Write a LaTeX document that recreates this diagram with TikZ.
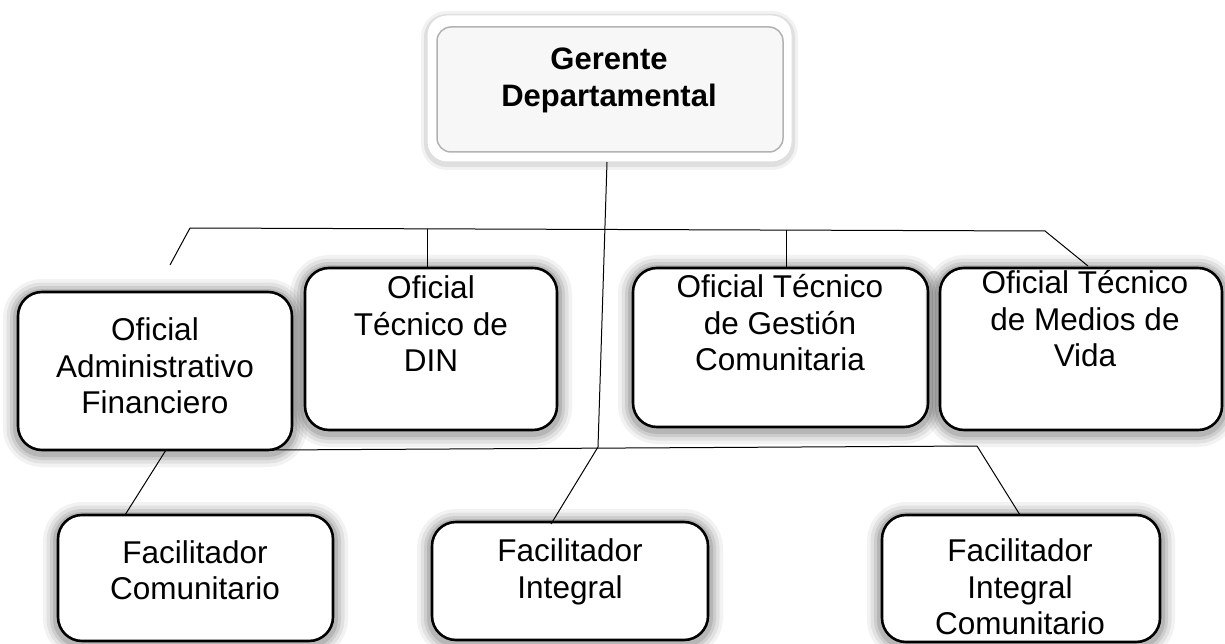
\documentclass[tikz,border=0pt]{standalone}
\usepackage{fontspec}
\setmainfont{Liberation Sans}
\begin{document}
\begin{tikzpicture}[x=1pt,y=-1pt,
  glow/.style={
    preaction={draw=black, line width=30pt, opacity=0.05, transform canvas={yshift=-2pt}},
    preaction={draw=black, line width=23pt, opacity=0.07, transform canvas={yshift=-2pt}},
    preaction={draw=black, line width=16pt, opacity=0.09, transform canvas={yshift=-2pt}},
    preaction={draw=black, line width=10pt, opacity=0.11, transform canvas={yshift=-2pt}}},
  box/.style={glow, draw=black, line width=2.6pt, rounded corners=24pt, fill=white, inner sep=0pt},
  txt/.style={align=center, inner sep=0pt, font=\fontsize{31.5}{36.5}\selectfont},
  btxt/.style={align=center, inner sep=0pt, font=\fontsize{31}{37}\selectfont\bfseries},
  conn/.style={draw=black, line width=1pt}]
\useasboundingbox (0,0) rectangle (1225,644);
% top box
\node[draw=gray!25, line width=1pt, fill=white, rounded corners=20pt, minimum width=365pt, minimum height=147pt,
  preaction={draw=black, line width=12pt, opacity=0.05, transform canvas={yshift=-2pt}},
  preaction={draw=black, line width=6pt, opacity=0.08, transform canvas={yshift=-2pt}}] (gout) at (609.5,88.5) {};
\node[draw=gray!60, line width=1.5pt, fill=gray!6, rounded corners=14pt, minimum width=346pt, minimum height=125pt] (gm) at (610,89.5) {};
\node[btxt] (gmT) at (609,80) {Gerente\\Departamental};
% boxes
\node[box, minimum width=274pt, minimum height=158pt] (adm) at (155,371) {};
\node[box, minimum width=252pt, minimum height=162pt] (din) at (431,349) {};
\node[box, minimum width=295pt, minimum height=159pt] (gest) at (780.5,347.5) {};
\node[box, minimum width=282pt, minimum height=162pt] (med) at (1081,349) {};
\node[box, minimum width=275pt, minimum height=126pt] (fcom) at (195.5,578) {};
\node[box, minimum width=276pt, minimum height=118pt] (fint) at (570,581) {};
\node[box, minimum width=278pt, minimum height=127pt] (fic) at (1021,578.5) {};
% texts
\node[txt] (admT) at (155,366) {Oficial\\Administrativo\\Financiero};
\node[txt] (dinT) at (431,324) {Oficial\\Técnico de\\DIN};
\node[txt] (gestT) at (780,323) {Oficial Técnico\\de Gestión\\Comunitaria};
\node[txt] (medT) at (1085,319) {Oficial Técnico\\de Medios de\\Vida};
\node[txt] (fcomT) at (195,570) {Facilitador\\Comunitario};
\node[txt] (fintT) at (570,572) {Facilitador\\Integral};
\node[txt] (ficT) at (1020,587) {Facilitador\\Integral\\Comunitario};
% coordinates
\coordinate (gb) at (607,162);
\coordinate (mb) at (598,447);
\coordinate (tl) at (190,228);
\coordinate (tr) at (1045,231);
\coordinate (tdin) at (427,229);
\coordinate (tgest) at (786,230);
\coordinate (admend) at (170,265);
\coordinate (medend) at (1088,266);
\coordinate (bl) at (273,450);
\coordinate (br) at (977,446);
\coordinate (admb) at (166,450);
\coordinate (fcomt) at (125,515);
\coordinate (fintt) at (551,524);
\coordinate (fict) at (1020,515);
% connectors
\draw[conn] (gb) -- (mb);
\draw[conn] (tl) -- (tr);
\draw[conn] (tl) -- (admend);
\draw[conn] (tdin) -- (tdin |- din.north);
\draw[conn] (tgest) -- (tgest |- gest.north);
\draw[conn] (tr) -- (medend);
\draw[conn] (bl) -- (br);
\draw[conn] (admb) -- (fcomt);
\draw[conn] (mb) -- (fintt);
\draw[conn] (br) -- (fict);
\end{tikzpicture}
\end{document}
